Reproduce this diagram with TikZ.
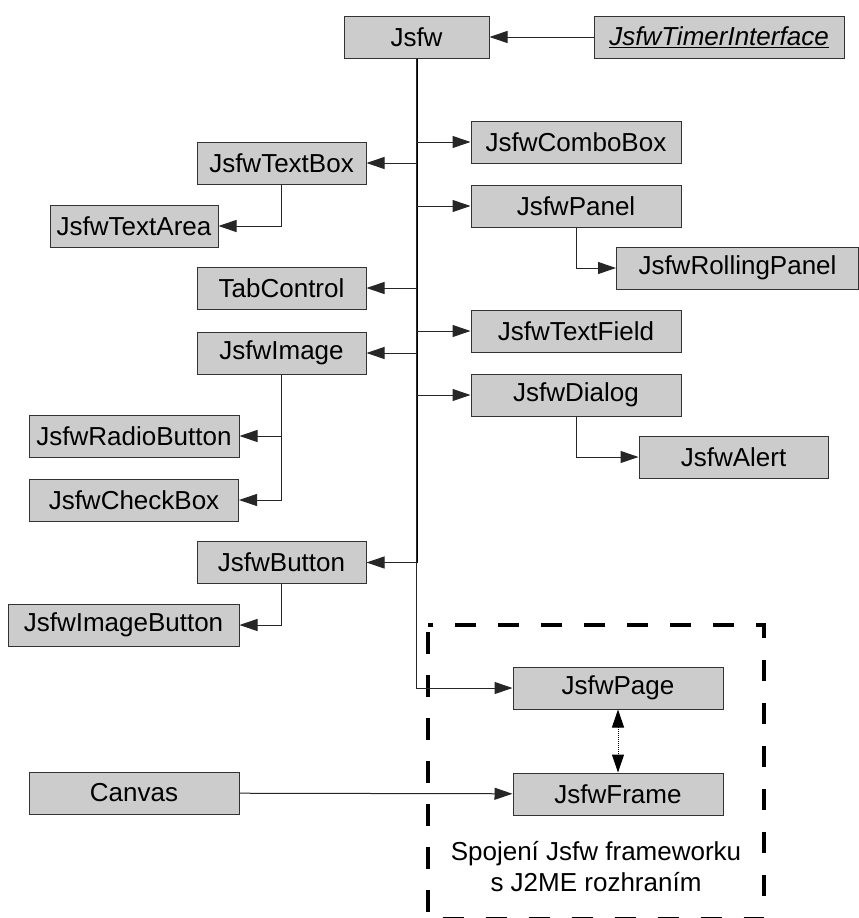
\documentclass[tikz,border=0pt]{standalone}
\usepackage{fontspec}
\setmainfont{Liberation Sans}
\usetikzlibrary{arrows.meta,positioning}
\definecolor{BoxFill}{HTML}{CCCCCC}
\definecolor{BoxLine}{HTML}{333333}
\definecolor{Wire}{HTML}{262626}
\tikzset{
  cls/.style={draw=BoxLine,fill=BoxFill,line width=1pt,minimum height=42pt,inner sep=0pt,font=\fontsize{26}{31}\selectfont},
  arr/.style={-{Triangle[length=18pt,width=12pt]},line width=1pt,draw=Wire},
  trunk/.style={line width=2pt,draw=black},
  link/.style={{Triangle[length=18pt,width=12pt]}-{Triangle[length=18pt,width=12pt]},densely dotted,line width=1pt},
  group/.style={draw=black,line width=4pt,dash pattern=on 21.5pt off 21.5pt,dash phase=36pt}
}
\begin{document}
\begin{tikzpicture}[x=1pt,y=-1pt]
  \useasboundingbox (0,0) rectangle (859,918);
  % root and interface
  \node[cls,minimum width=145pt] (jsfw) at (416.5,37) {Jsfw};
  \node[cls,minimum width=250pt,right=104pt of jsfw] (timer) {\underline{\textit{JsfwTimerInterface}}};
  % right side
  \node[cls,minimum width=210pt] (combo) at (576,142) {JsfwComboBox};
  \node[cls,minimum width=210pt,below=21pt of combo] (panel) {JsfwPanel};
  \node[cls,minimum width=242pt] (rolling) at (737.5,268) {JsfwRollingPanel};
  \node[cls,minimum width=210pt] (textfield) at (576,331) {JsfwTextField};
  \node[cls,minimum width=210pt,below=21pt of textfield] (dialog) {JsfwDialog};
  \node[cls,minimum width=189pt] (alert) at (733.5,457) {JsfwAlert};
  % left side
  \node[cls,minimum width=169pt] (textbox) at (281.5,163) {JsfwTextBox};
  \node[cls,minimum width=168pt] (textarea) at (134,226) {JsfwTextArea};
  \node[cls,minimum width=169pt] (tabctl) at (281.5,288) {TabControl};
  \node[cls,minimum width=169pt,below=22pt of tabctl] (image) {JsfwImage};
  \node[cls,minimum width=210pt] (radio) at (134,436) {JsfwRadioButton};
  \node[cls,minimum width=209pt,below=21pt of radio] (check) {JsfwCheckBox};
  \node[cls,minimum width=169pt] (button) at (281.5,562.5) {JsfwButton};
  \node[cls,minimum width=231pt] (imgbtn) at (123.5,625) {JsfwImageButton};
  % J2ME part
  \node[cls,minimum width=210pt] (page) at (618,688) {JsfwPage};
  \node[cls,minimum width=210pt,below=63pt of page] (frame) {JsfwFrame};
  \node[cls,minimum width=210pt] (canvas) at (134,793) {Canvas};
  \draw[group] (428,625) rectangle (764,918.5);
  \node[font=\fontsize{26}{31}\selectfont,align=center] (note) at (596,867) {Spojení Jsfw frameworku\\s J2ME rozhraním};
  % connectors
  \draw[trunk] (jsfw.south) -- (jsfw.south |- button.east);
  \draw[arr] (timer) -- (jsfw);
  \foreach \n in {combo,panel,textfield,dialog,page}
    \draw[arr] (jsfw.south) |- (\n.west);
  \foreach \n in {textbox,tabctl,image,button}
    \draw[arr] (jsfw.south) |- (\n.east);
  \draw[arr] (panel.south) |- (rolling.west);
  \draw[arr] (dialog.south) |- (alert.west);
  \draw[arr] (textbox.south) |- (textarea.east);
  \draw[arr] (image.south) |- (radio.east);
  \draw[arr] (image.south) |- (check.east);
  \draw[arr] (button.south) |- (imgbtn.east);
  \draw[arr] (canvas) -- (frame);
  \draw[link] (page) -- (frame);
\end{tikzpicture}
\end{document}
